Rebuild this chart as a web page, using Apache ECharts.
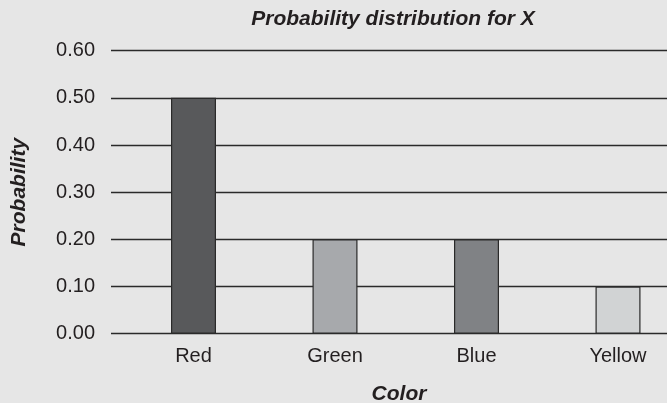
<!DOCTYPE html>
<html>
<head>
<meta charset="utf-8">
<title>Probability distribution for X</title>
<script src="https://cdn.jsdelivr.net/npm/echarts@6/dist/echarts.min.js"></script>
<style>
  html, body { margin: 0; padding: 0; background: #e6e6e6; }
  #chart { width: 667px; height: 403px; }
</style>
</head>
<body>
<div id="chart"></div>
<script>
// Outcome categories and their probabilities
const categories = ['Red', 'Green', 'Blue', 'Yellow'];
const probabilities = [0.50, 0.20, 0.20, 0.10];
const yMin = 0;
const yMax = 0.60;
const yStep = 0.10;

// Fill colours for each bar (greyscale)
const barFills = ['#58595b', '#a7a9ac', '#808285', '#d1d3d4'];

const FONT = '"Liberation Sans", Arial, Helvetica, sans-serif';
const INK = '#231f20';

const chart = echarts.init(document.getElementById('chart'), null, { renderer: 'canvas' });

const plotTop = 50.7;
const plotBottom = 69.4;

chart.setOption({
  backgroundColor: '#e6e6e6',
  animation: false,
  title: [
    {
      text: 'Probability distribution for X',
      left: 388,
      top: 4,
      textAlign: 'center',
      textStyle: { fontFamily: FONT, fontSize: 21, fontWeight: 'bold', fontStyle: 'italic', color: INK }
    },
    {
      text: 'Color',
      left: 394,
      top: 379,
      textAlign: 'center',
      textStyle: { fontFamily: FONT, fontSize: 21, fontWeight: 'bold', fontStyle: 'italic', color: INK }
    }
  ],
  grid: [
    // rule lines and value axis
    { left: 111, right: -5, top: plotTop, bottom: plotBottom, outerBoundsMode: 'none' },
    // category bars
    { left: 122.75, width: 566, top: plotTop, bottom: plotBottom, outerBoundsMode: 'none' }
  ],
  xAxis: [
    { gridIndex: 0, type: 'value', show: false },
    {
      gridIndex: 1,
      type: 'category',
      data: categories,
      axisLine: { show: false },
      axisTick: { show: false },
      axisLabel: { fontFamily: FONT, fontSize: 20, color: INK, margin: 13 }
    }
  ],
  yAxis: [
    {
      gridIndex: 0,
      type: 'value',
      min: yMin,
      max: yMax,
      interval: yStep,
      name: 'Probability',
      nameLocation: 'middle',
      nameGap: 81,
      nameTextStyle: { fontFamily: FONT, fontSize: 21, fontWeight: 'bold', fontStyle: 'italic', color: INK },
      axisLine: { show: false },
      axisTick: { show: false },
      axisLabel: {
        fontFamily: FONT, fontSize: 20, color: INK, margin: 16,
        formatter: v => v.toFixed(2)
      },
      splitLine: { show: true, lineStyle: { color: '#2a2a2a', width: 1.3 } }
    },
    {
      gridIndex: 1,
      type: 'value',
      min: yMin,
      max: yMax,
      interval: yStep,
      show: false,
      splitLine: { show: false }
    }
  ],
  series: [
    {
      type: 'bar',
      xAxisIndex: 1,
      yAxisIndex: 1,
      barWidth: 45,
      data: probabilities.map((p, i) => ({
        value: p,
        itemStyle: { color: barFills[i], borderColor: '#2a2a2a', borderWidth: 1.2 }
      }))
    }
  ]
});
</script>
</body>
</html>
